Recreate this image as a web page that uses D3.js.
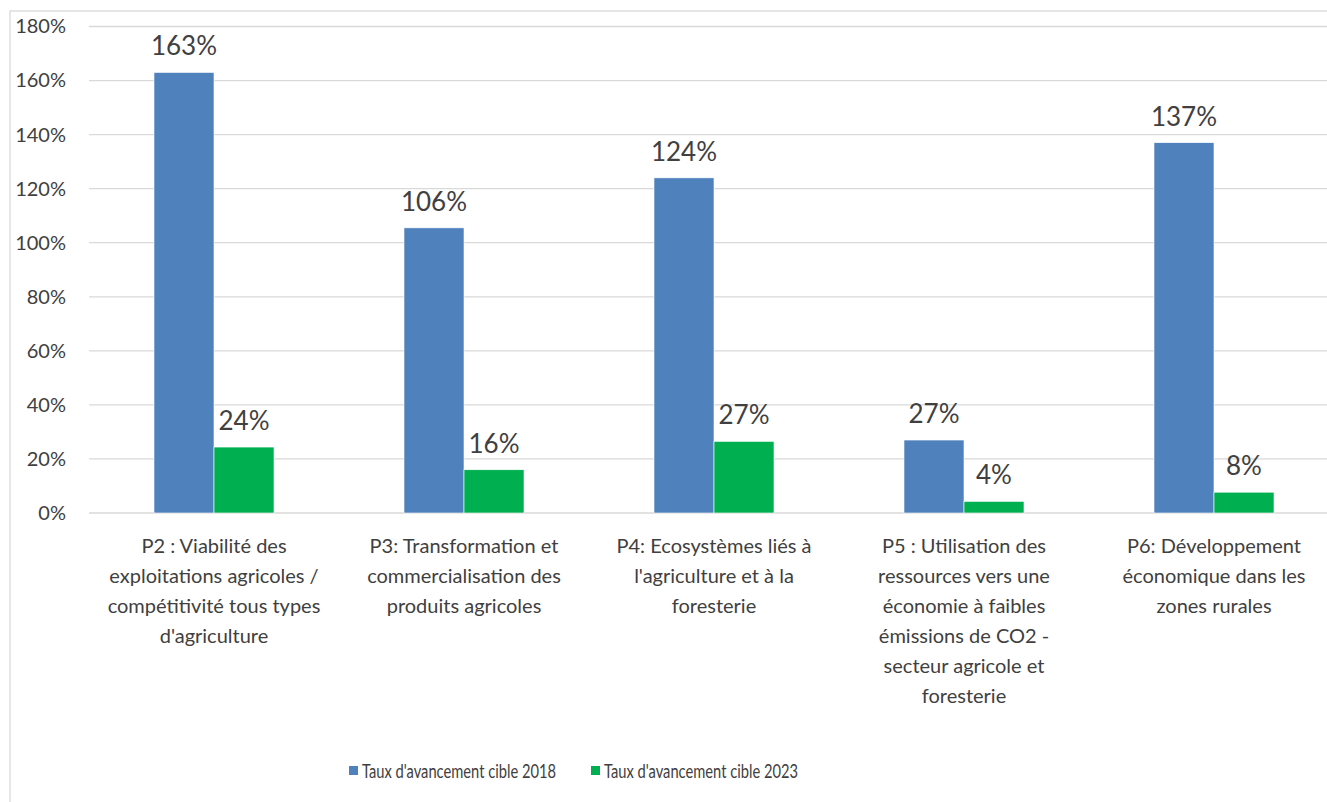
<!DOCTYPE html>
<html><head><meta charset="utf-8">
<script src="https://cdn.jsdelivr.net/npm/d3@7"></script>
<style>body{margin:0;background:#fff;}svg{display:block;font-family:Lato,"Open Sans",sans-serif;}</style>
</head><body>
<svg id="c" width="1327" height="802"></svg>
<script>
const categories = [
  ["P2 : Viabilité des","exploitations agricoles /","compétitivité tous types","d'agriculture"],
  ["P3: Transformation et","commercialisation des","produits agricoles"],
  ["P4: Ecosystèmes liés à","l'agriculture et à la","foresterie"],
  ["P5 : Utilisation des","ressources vers une","économie à faibles","émissions de CO2 -","secteur agricole et","foresterie"],
  ["P6: Développement","économique dans les","zones rurales"]
];
const seriesNames = ["Taux d'avancement cible 2018","Taux d'avancement cible 2023"];
const values2018 = [1.63, 1.055, 1.24, 0.27, 1.37];
const values2023 = [0.244, 0.16, 0.265, 0.043, 0.077];
const yTicks = [0,0.2,0.4,0.6,0.8,1.0,1.2,1.4,1.6,1.8];
const colors = ["#4f81bd","#00b050"];

(function(){
const svg = d3.select("#c");
svg.append("rect").attr("x",10).attr("y",11).attr("width",1340).attr("height",820)
  .attr("fill","none").attr("stroke","#d9d9d9").attr("stroke-width",1.3);

const pLeft = 89, pRight = 1339, pTop = 26.5, pBottom = 513;
const x0 = d3.scaleBand().domain(d3.range(categories.length)).range([pLeft,pRight]).paddingInner(0).paddingOuter(0);
const x1 = d3.scaleBand().domain([0,1]).range([0, x0.bandwidth()]).paddingInner(0).paddingOuter(1.083);
const y = d3.scaleLinear().domain([0,1.8]).range([pBottom, pTop]);

svg.append("g").selectAll("line").data(yTicks).join("line")
  .attr("x1",pLeft).attr("x2",pRight).attr("y1",d=>y(d)).attr("y2",d=>y(d))
  .attr("stroke","#d9d9d9").attr("stroke-width",1.3);

const yAxis = d3.axisLeft(y).tickValues(yTicks).tickFormat(d=>Math.round(d*100)+"%").tickSize(0).tickPadding(0);
const ga = svg.append("g").attr("transform",`translate(66,0)`).call(yAxis);
ga.select(".domain").remove();
ga.selectAll("text").attr("font-size",20).attr("fill","#404040").attr("font-family","Lato,sans-serif");

const data = categories.map((c,i)=>({i, vals:[values2018[i], values2023[i]]}));
const groups = svg.append("g").selectAll("g").data(data).join("g")
  .attr("transform",d=>`translate(${x0(d.i)},0)`);
groups.selectAll("rect").data(d=>d.vals.map((v,k)=>({v,k}))).join("rect")
  .attr("x",d=>x1(d.k)).attr("width",x1.bandwidth())
  .attr("y",d=>y(d.v)).attr("height",d=>pBottom-y(d.v))
  .attr("fill",d=>colors[d.k]).attr("stroke","#fff").attr("stroke-width",0.6);
groups.selectAll("text.lbl").data(d=>d.vals.map((v,k)=>({v,k}))).join("text").attr("class","lbl")
  .attr("x",d=>x1(d.k)+x1.bandwidth()/2).attr("y",d=>y(d.v)-17)
  .attr("text-anchor","middle").attr("font-size",26).attr("fill","#404040")
  .text(d=>Math.round(d.v*100)+"%");

groups.each(function(d){
  const g = d3.select(this);
  const t = g.append("text").attr("text-anchor","middle").attr("font-size",20).attr("fill","#404040");
  categories[d.i].forEach((line,j)=>{
    t.append("tspan").attr("x",x0.bandwidth()/2).attr("y",553+j*30).text(line);
  });
});

const leg = svg.append("g");
const lx = [349, 591];
seriesNames.forEach((n,k)=>{
  leg.append("rect").attr("x",lx[k]).attr("y",766).attr("width",9).attr("height",9).attr("fill",colors[k]);
  leg.append("text").attr("x",lx[k]+13).attr("y",777.5).attr("font-size",18.5)
    .attr("textLength",194).attr("lengthAdjust","spacingAndGlyphs")
    .attr("fill","#404040").text(n);
});
})();
</script>
</body></html>
